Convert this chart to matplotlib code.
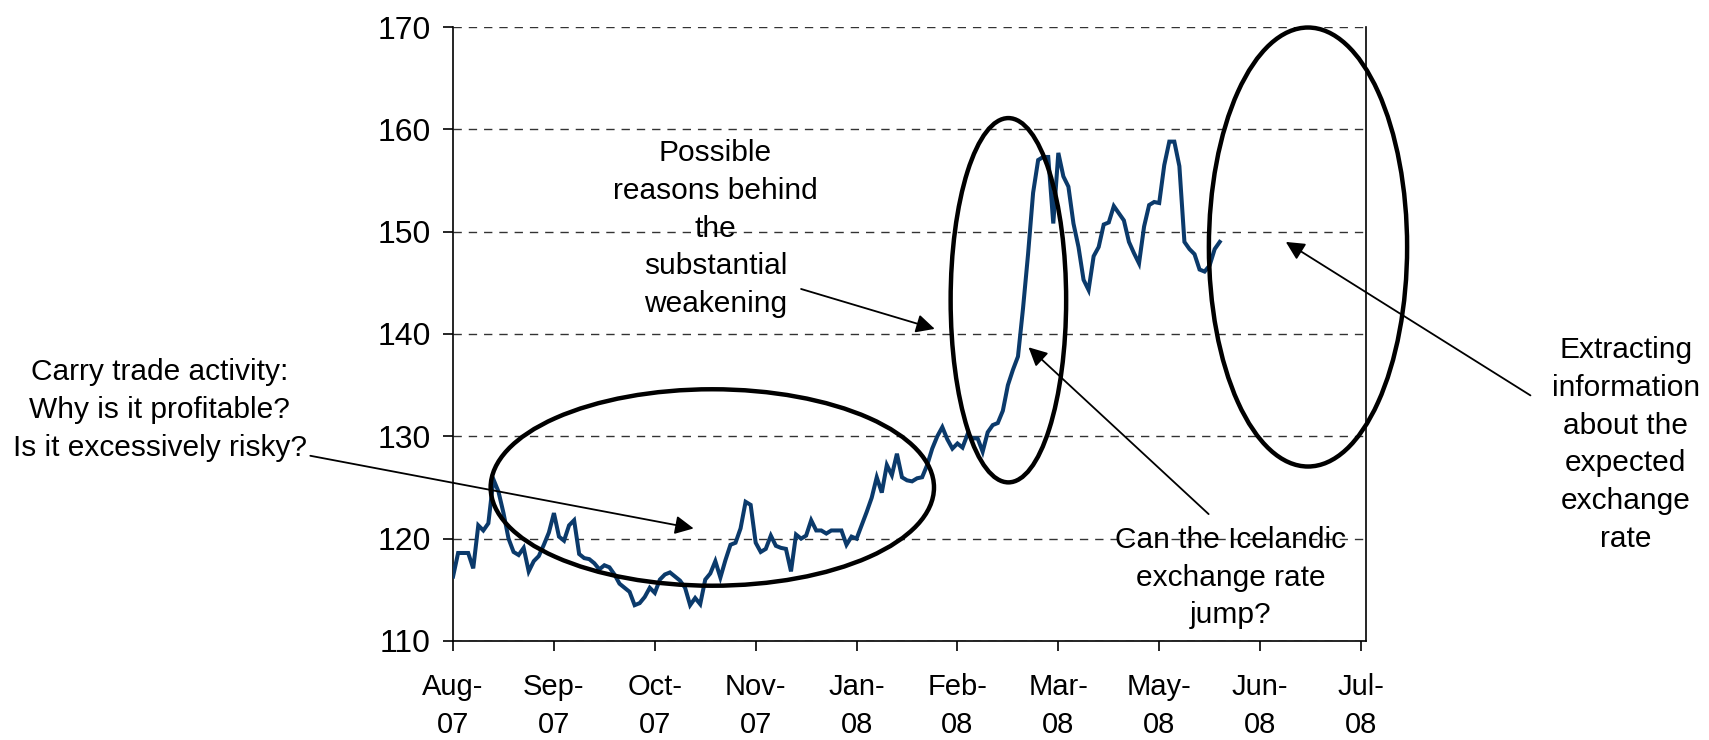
import matplotlib
matplotlib.use("Agg")
import matplotlib.pyplot as plt
from matplotlib.patches import Ellipse

plt.rcParams['font.family'] = ['Liberation Sans', 'DejaVu Sans']

# ISK exchange rate index, daily observations (20 per tick interval)
rate = [
    116.3, 118.6, 118.6, 118.6, 117.1, 121.3, 120.8, 121.5, 125.8, 124.6,
    122.5, 120.0, 118.7, 118.4, 119.1, 116.8, 117.8, 118.3, 119.4, 120.6,
    122.5, 120.2, 119.8, 121.3, 121.8, 118.5, 118.1, 118.0, 117.6, 117.0,
    117.4, 117.2, 116.5, 115.6, 115.2, 114.8, 113.5, 113.7, 114.3, 115.2,
    114.7, 116.0, 116.5, 116.7, 116.3, 115.9, 115.2, 113.5, 114.2, 113.6,
    116.0, 116.6, 117.8, 116.2, 117.9, 119.4, 119.6, 121.0, 123.6, 123.3,
    119.6, 118.7, 119.0, 120.3, 119.3, 119.1, 119.0, 116.8, 120.4, 120.0,
    120.3, 121.8, 120.8, 120.8, 120.5, 120.8, 120.8, 120.8, 119.4, 120.2,
    120.0, 121.3, 122.6, 124.0, 126.0, 124.5, 127.2, 126.2, 128.3, 126.0,
    125.7, 125.6, 125.9, 126.0, 127.2, 128.8, 130.0, 130.9, 129.7, 128.8,
    129.3, 128.9, 130.2, 129.8, 129.8, 128.5, 130.4, 131.1, 131.3, 132.5,
    135.0, 136.5, 137.8, 142.5, 147.8, 153.8, 157.0, 157.3, 157.3, 150.8,
    157.7, 155.4, 154.4, 150.8, 148.5, 145.3, 144.3, 147.6, 148.5, 150.7,
    150.9, 152.5, 151.8, 151.1, 149.0, 147.9, 146.9, 150.5, 152.6, 152.9,
    152.8, 156.5, 158.8, 158.8, 156.4, 149.0, 148.3, 147.8, 146.3, 146.1,
    146.7, 148.3, 149.0,
]
tick_labels = ['Aug-\n07', 'Sep-\n07', 'Oct-\n07', 'Nov-\n07', 'Jan-\n08',
               'Feb-\n08', 'Mar-\n08', 'May-\n08', 'Jun-\n08', 'Jul-\n08']
tick_step = 20
y_ticks = [110, 120, 130, 140, 150, 160, 170]

fig = plt.figure(figsize=(17.09, 7.40), dpi=100)
ax = fig.add_axes([0.2651, 0.1338, 0.5342, 0.8297])

ax.plot(range(len(rate)), rate, color='#0b3a6b', lw=2.9, zorder=3,
        solid_joinstyle='miter')

ax.set_xlim(0, 181)
ax.set_ylim(110, 170)
ax.set_xticks([i * tick_step for i in range(len(tick_labels))])
ax.set_xticklabels(tick_labels, fontsize=21, linespacing=1.45)
ax.set_yticks(y_ticks)
ax.set_yticklabels([str(v) for v in y_ticks], fontsize=23)
ax.tick_params(axis='both', direction='out', length=7, width=1.2, color='black')
ax.tick_params(axis='y', pad=9)
ax.tick_params(axis='x', pad=16)

ax.yaxis.grid(True, linestyle=(0, (6, 5)), lw=1.0, color='#333333')
ax.set_axisbelow(True)
ax.spines['top'].set_visible(False)
for side in ['left', 'bottom', 'right']:
    ax.spines[side].set_linewidth(1.2)

# circled regions
for cx, cy, w, h in [(51.4, 125.0, 87.9, 19.2),
                     (110.1, 143.3, 22.9, 35.6),
                     (169.5, 148.5, 39.3, 42.9)]:
    ax.add_patch(Ellipse((cx, cy), w, h, fill=False, ec='black', lw=3.2,
                         clip_on=False, zorder=4))

txt = dict(fontsize=21.5, ha='center', va='center', multialignment='center',
           linespacing=1.45)
arrow = dict(arrowstyle='-|>', lw=1.3, color='black', mutation_scale=28,
             shrinkA=0, shrinkB=0)

ax.text(52.0, 150.3, 'Possible\nreasons behind\nthe\nsubstantial\nweakening', **txt)
ax.annotate('', xy=(95.5, 140.5), xytext=(69.0, 144.4), arrowprops=arrow,
            annotation_clip=False)

ax.text(-58.2, 132.6, 'Carry trade activity:\nWhy is it profitable?\nIs it excessively risky?',
        clip_on=False, **txt)
ax.annotate('', xy=(47.7, 121.0), xytext=(-28.3, 128.1), arrowprops=arrow,
            annotation_clip=False)

ax.text(154.1, 116.2, 'Can the Icelandic\nexchange rate\njump?', **txt)
ax.annotate('', xy=(114.1, 138.7), xytext=(149.8, 122.4), arrowprops=arrow,
            annotation_clip=False)

ax.text(232.5, 129.2, 'Extracting\ninformation\nabout the\nexpected\nexchange\nrate',
        clip_on=False, **txt)
ax.annotate('', xy=(165.1, 149.0), xytext=(213.6, 134.0), arrowprops=arrow,
            annotation_clip=False)

fig.savefig('out.png', dpi=100)
plt.close(fig)
